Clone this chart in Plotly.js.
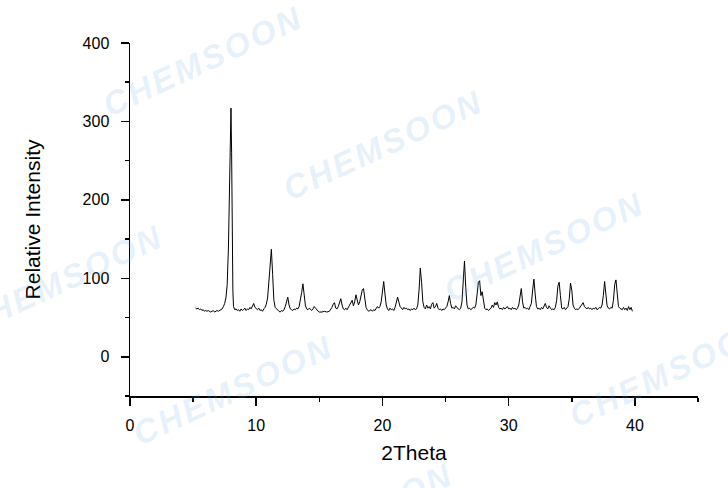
<!DOCTYPE html>
<html>
<head>
<meta charset="utf-8">
<script src="https://cdn.plot.ly/plotly-3.0.1.min.js"></script>
<style>html,body{margin:0;padding:0;background:#fff;}#chart{width:728px;height:488px;}</style>
</head>
<body>
<div id="chart"></div>
<script>
// XRD pattern
const twoTheta = [
5.2,5.3,5.4,5.5,5.6,5.7,5.8,5.9,6.0,6.1,6.2,6.3,6.4,6.5,6.6,6.7,6.8,6.9,7.0,7.1,7.2,7.3,7.4,7.5,7.6,7.7,7.8,7.9,8.0,8.05,8.1,8.15,8.2,8.3,8.4,8.5,8.6,8.7,8.8,8.9,
9.0,9.1,9.2,9.3,9.4,9.5,9.6,9.7,9.8,9.9,10.0,10.1,10.2,10.3,10.4,10.5,10.6,10.7,10.8,10.9,11.0,11.1,11.2,11.3,11.4,11.5,11.6,11.7,11.8,11.9,
12.0,12.1,12.2,12.3,12.4,12.5,12.6,12.7,12.8,12.9,13.0,13.1,13.2,13.3,13.4,13.5,13.6,13.7,13.8,13.9,14.0,14.1,14.2,14.3,14.4,14.5,14.6,14.7,14.8,14.9,
15.0,15.2,15.4,15.6,15.8,15.9,16.0,16.1,16.2,16.3,16.4,16.5,16.6,16.7,16.8,16.9,17.0,17.1,17.2,17.3,17.4,17.5,17.6,17.7,17.8,17.9,18.0,18.1,18.2,18.3,18.4,18.5,18.6,18.7,18.8,18.9,
19.0,19.1,19.2,19.3,19.4,19.5,19.6,19.7,19.8,19.9,20.0,20.1,20.2,20.3,20.4,20.5,20.6,20.7,20.8,20.9,21.0,21.1,21.2,21.3,21.4,21.5,21.6,21.7,21.8,21.9,
22.0,22.1,22.2,22.3,22.4,22.5,22.6,22.7,22.8,22.9,23.0,23.1,23.2,23.3,23.4,23.5,23.6,23.7,23.8,23.9,24.0,24.1,24.2,24.3,24.4,24.5,24.6,24.7,24.8,24.9,
25.0,25.1,25.2,25.3,25.4,25.5,25.6,25.7,25.8,25.9,26.0,26.1,26.2,26.3,26.4,26.5,26.6,26.7,26.8,26.9,27.0,27.1,27.2,27.3,27.4,27.5,27.6,27.7,27.8,27.9,
28.0,28.1,28.2,28.3,28.4,28.5,28.6,28.7,28.8,28.9,29.0,29.1,29.2,29.3,29.4,29.5,29.6,29.7,29.8,29.9,30.0,30.1,30.2,30.3,30.4,30.5,30.6,30.7,30.8,30.9,
31.0,31.1,31.2,31.3,31.4,31.5,31.6,31.7,31.8,31.9,32.0,32.1,32.2,32.3,32.4,32.5,32.6,32.7,32.8,32.9,33.0,33.1,33.2,33.3,33.4,33.5,33.6,33.7,33.8,33.9,
34.0,34.1,34.2,34.3,34.4,34.5,34.6,34.7,34.8,34.9,35.0,35.1,35.2,35.3,35.4,35.5,35.6,35.7,35.8,35.9,36.0,36.1,36.2,36.3,36.4,36.5,36.6,36.7,36.8,36.9,
37.0,37.1,37.2,37.3,37.4,37.5,37.6,37.7,37.8,37.9,38.0,38.1,38.2,38.3,38.4,38.5,38.6,38.7,38.8,38.9,39.0,39.1,39.2,39.3,39.4,39.5,39.6,39.7,39.8
];
const intensity = [
62,61,62,60,61,59,60,58,59,58,59,58,57,58,59,57,58,59,58,59,60,61,64,68,75,92,140,240,317,260,150,85,64,60,61,59,60,58,61,59,
60,62,59,61,60,63,61,64,68,63,61,60,62,59,60,58,61,63,67,75,95,120,137,105,72,63,61,60,58,57,
59,58,60,64,70,76,66,61,60,59,61,60,62,61,64,71,82,93,78,65,61,60,62,60,59,61,64,62,59,58,
57,57,58,57,58,60,63,67,69,62,61,64,68,74,66,61,60,62,60,63,66,70,72,65,70,79,71,66,70,78,85,87,74,63,60,58,
59,60,58,60,59,61,64,62,64,70,82,96,80,66,61,59,62,60,61,59,63,69,76,70,64,62,60,63,61,62,
60,61,59,61,60,62,60,61,66,85,113,95,70,63,61,66,62,64,61,67,69,62,64,68,62,60,61,59,61,60,
62,64,70,78,68,62,63,61,65,62,61,60,62,70,95,122,88,66,61,62,60,61,63,62,66,80,95,97,78,83,
74,62,60,61,59,61,62,66,63,69,66,70,63,61,62,60,63,61,62,64,61,62,60,63,61,62,60,62,66,78,
87,70,62,63,61,62,60,64,68,85,99,80,64,61,62,60,63,61,64,68,63,61,65,62,60,61,60,63,72,90,
95,78,62,61,63,60,62,64,74,94,85,66,62,60,61,60,62,64,66,69,64,62,61,63,61,62,60,62,61,63,
60,61,63,62,66,78,96,80,65,62,61,63,62,72,92,98,78,64,62,61,60,63,60,62,59,64,60,63,58
];
const xTicks = [0, 10, 20, 30, 40];
const yTicks = [0, 100, 200, 300, 400];
const xTitle = '2Theta';
const yTitle = 'Relative Intensity';
const watermarkText = 'C\u200AH\u200AE\u200AM\u200AS\u200AO\u200AO\u200AN';

// watermark positions in pixel coordinates of the page
const wmPx = [[202,62],[382,145],[62,280],[543,247],[232,390],[668,372],[352,518]];
const L = 130, T = 43, W = 568, H = 353;
const annotations = wmPx.map(p => ({
  xref: 'paper', yref: 'paper',
  x: (p[0] - L) / W, y: (T + H - p[1]) / H,
  xanchor: 'center', yanchor: 'middle',
  text: watermarkText,
  showarrow: false, textangle: -25,
  font: {family: 'Liberation Sans, Arial, sans-serif', size: 33, weight: 'bold', style: 'italic', color: 'rgba(100,170,230,0.17)'}
}));

const axisFont = {family: 'Liberation Sans, Arial, sans-serif', size: 16, color: '#000'};
const titleFont = {family: 'Liberation Sans, Arial, sans-serif', size: 21, color: '#000'};
const axisCommon = {
  showline: true, linecolor: '#000', linewidth: 1.5,
  ticks: 'outside', ticklen: 8, tickwidth: 1.5, tickcolor: '#000',
  showgrid: false, zeroline: false, mirror: false,
  tickfont: axisFont
};

const layout = {
  width: 728, height: 488,
  margin: {l: L, r: 728 - L - W, t: T, b: 488 - T - H},
  paper_bgcolor: '#fff', plot_bgcolor: '#fff',
  showlegend: false,
  xaxis: Object.assign({}, axisCommon, {
    range: [0, 45], tickvals: xTicks, ticktext: xTicks.map(String),
    minor: {dtick: 5, tick0: 5, ticks: 'outside', ticklen: 4, tickwidth: 1.5, tickcolor: '#000', showgrid: false},
    ticklabelstandoff: 6,
    title: {text: xTitle, standoff: 12, font: titleFont}
  }),
  yaxis: Object.assign({}, axisCommon, {
    range: [-50, 400], tickvals: yTicks, ticktext: yTicks.map(String),
    minor: {dtick: 50, tick0: -50, ticks: 'outside', ticklen: 4, tickwidth: 1.5, tickcolor: '#000', showgrid: false},
    ticklabelstandoff: 8,
    title: {text: yTitle, standoff: 36, font: titleFont}
  }),
  annotations: annotations
};

const trace = {
  x: twoTheta, y: intensity, type: 'scatter', mode: 'lines',
  line: {color: '#000', width: 1}, hoverinfo: 'skip'
};

Plotly.newPlot('chart', [trace], layout, {staticPlot: true, displayModeBar: false});
</script>
</body>
</html>
